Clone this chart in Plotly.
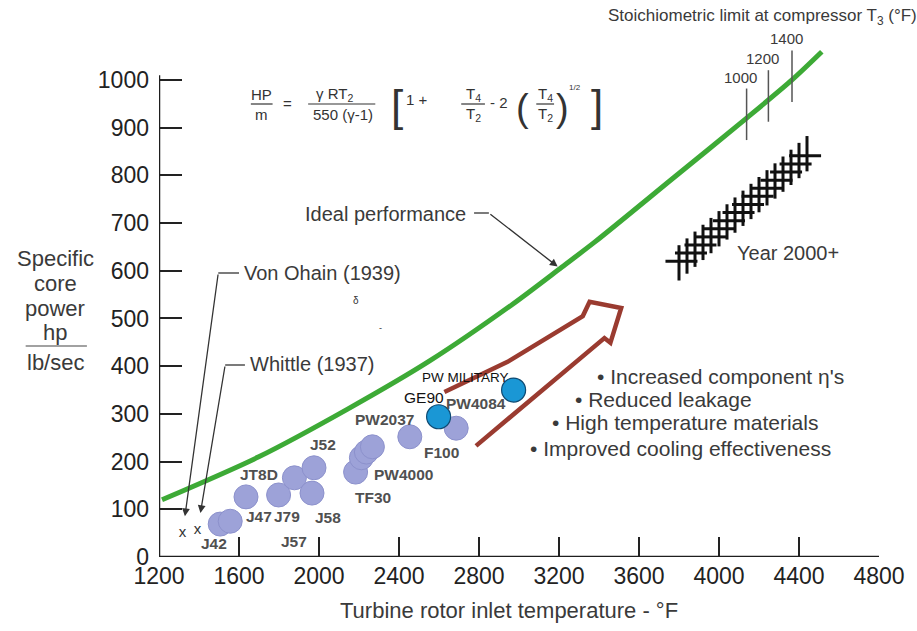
import numpy as np
import plotly.graph_objects as go

# ---------------- data ----------------
ideal_temp = [1215, 1699, 2143, 2553, 2968, 3215, 3378, 3773, 4138, 4365, 4514]
ideal_power = [120, 210, 310, 411, 530, 608, 660, 795, 920, 1000, 1059]

engine_temp = [1506, 1556, 1635, 1798, 1877, 1965, 1975, 2183, 2212, 2237, 2267, 2454, 2686]
engine_power = [69, 75, 126, 130, 166, 134, 187, 178, 208, 220, 231, 252, 270]
engine_labels = ["J42", "J57", "J47", "J79", "J58", "JT8D", "J52", "TF30", "PW4000", "PW2037", "F100", "PW4084"]
engine_label_anchor = [0, 3, 2, 3, 5, 4, 6, 7, 8, 10, 11, 12]

new_engine_names = ["GE90", "PW MILITARY"]
new_engine_temp = [2598, 2973]
new_engine_power = [294, 350]

early_names = ["Von Ohain (1939)", "Whittle (1937)"]
early_temp = [1318, 1393]
early_power = [50, 57]

stoich_T3 = ["1000", "1200", "1400"]
stoich_temp = [4138, 4247, 4365]

year2000_temp = [3790, 4450]
year2000_power = [612, 848]

trend_arrow_temp = [2627, 2943, 3319, 3353, 3511, 3457, 3427, 2785]
trend_arrow_power = [346, 409, 505, 535, 522, 449, 459, 233]

improvements = ["• Increased component η's", "• Reduced leakage",
                "• High temperature materials", "• Improved cooling effectiveness"]

x_ticks = [1200, 1600, 2000, 2400, 2800, 3200, 3600, 4000, 4400, 4800]
y_ticks = [0, 100, 200, 300, 400, 500, 600, 700, 800, 900, 1000]

# ---------------- layout geometry / styles ----------------
W, H = 917, 631
L, R, T, B = 159, 29, 27, 74
PW, PH = W - L - R, H - T - B
FONT = "Liberation Sans"
TXT = "#3a3a3a"

engine_label_offset = [(-6, 19), (15, 47), (13, 20), (8, 22), (16, 24), (-35, -3), (9, -23),
                       (17, 25), (42, 17), (12, -27), (32, 16), (20, -25)]
new_label_offset = [(-15, -19), (-48, -13)]
early_label_px = [(243, 273), (249, 364)]
early_tail_px = [(219, 273), (226, 365)]
improve_px = [(600, 376), (578, 399), (555, 423), (533, 448)]


def P(xp, yp):
    return (xp - L) / PW, 1 - (yp - T) / PH


def px2data(xp, yp):
    return 1200 + (xp - L) / PW * 3600, (H - B - yp) / PH * 1111


fig = go.Figure()

fig.add_trace(go.Scatter(x=ideal_temp, y=ideal_power, mode="lines",
                         line=dict(color="#3daa36", width=5, shape="spline", smoothing=0.8),
                         hoverinfo="skip"))
fig.add_trace(go.Scatter(x=engine_temp, y=engine_power, mode="markers",
                         marker=dict(size=24, color="#9da2d8", line=dict(color="#8c91cc", width=1)),
                         hoverinfo="skip"))
fig.add_trace(go.Scatter(x=new_engine_temp, y=new_engine_power, mode="markers",
                         marker=dict(size=24, color="#1a97d5", line=dict(color="#0e4a72", width=1.2)),
                         hoverinfo="skip"))
fig.add_trace(go.Scatter(x=early_temp, y=early_power, mode="text", text=["x", "x"],
                         textfont=dict(family=FONT, size=15, color="#333"), hoverinfo="skip"))

shapes = []
ann = []


def ptxt(s, xp, yp, size, color=TXT, xanchor="center"):
    x, y = P(xp, yp)
    ann.append(dict(x=x, y=y, xref="paper", yref="paper", text=s, showarrow=False,
                    xanchor=xanchor, yanchor="middle",
                    font=dict(family=FONT, size=size, color=color)))


def pline(x0, y0, x1, y1, color="#333", width=1.3):
    a, b = P(x0, y0)
    c, d = P(x1, y1)
    shapes.append(dict(type="line", xref="paper", yref="paper", x0=a, y0=b, x1=c, y1=d,
                       line=dict(color=color, width=width)))


# axis lines
shapes.append(dict(type="line", xref="x", yref="y", x0=1200, x1=4810, y0=0, y1=0,
                   line=dict(color="#1e1e1e", width=2.5)))
shapes.append(dict(type="line", xref="x", yref="y", x0=1200, x1=1200, y0=0, y1=1010,
                   line=dict(color="#1e1e1e", width=2.5)))

# red trend arrow (hollow)
path = "M " + " L ".join(f"{t},{p}" for t, p in zip(trend_arrow_temp, trend_arrow_power))
shapes.append(dict(type="path", xref="x", yref="y", path=path, layer="below",
                   line=dict(color="#9a3b30", width=4.5)))

# stoichiometric tick lines across the ideal curve
for lab, t in zip(stoich_T3, stoich_temp):
    pc = float(np.interp(t, ideal_temp, ideal_power))
    shapes.append(dict(type="line", xref="x", yref="y", x0=t, x1=t, y0=pc - 46, y1=pc + 62,
                       line=dict(color="#555", width=1.5)))
    ann.append(dict(x=t, y=pc + 62, xref="x", yref="y", text=lab, showarrow=False,
                    xanchor="center", yanchor="bottom", xshift=-6, yshift=1,
                    font=dict(family=FONT, size=15, color=TXT)))

# Year 2000+ cross-hatched band
t0, t1 = year2000_temp
p0, p1 = year2000_power
for t in np.arange(t0 + 10, t1 - 5, 40):
    pc = np.interp(t, year2000_temp, year2000_power)
    shapes.append(dict(type="line", xref="x", yref="y", x0=t, x1=t, y0=pc - 36, y1=pc + 38,
                       line=dict(color="#111", width=3)))
for p in np.arange(p0 + 8, p1 - 4, 17):
    tc = np.interp(p, year2000_power, year2000_temp)
    shapes.append(dict(type="line", xref="x", yref="y", x0=tc - 80, x1=tc + 80, y0=p, y1=p,
                       line=dict(color="#111", width=3)))
ptxt("Year 2000+", 796, 253, 20)

# engine labels
for name, idx, (dx, dy) in zip(engine_labels, engine_label_anchor, engine_label_offset):
    ann.append(dict(x=engine_temp[idx], y=engine_power[idx], xref="x", yref="y",
                    text="<b>" + name + "</b>", showarrow=False, xanchor="center", yanchor="middle",
                    xshift=dx, yshift=-dy, font=dict(family=FONT, size=15.5, color="#505050")))
for name, t, p, (dx, dy), fs in zip(new_engine_names, new_engine_temp, new_engine_power,
                                    new_label_offset, [15.5, 13.5]):
    ann.append(dict(x=t, y=p, xref="x", yref="y", text=name, showarrow=False,
                    xanchor="center", yanchor="middle",
                    xshift=dx, yshift=-dy, font=dict(family=FONT, size=fs, color="#111")))

# early engine leaders
for name, t, p, (lx, ly), (tx, ty) in zip(early_names, early_temp, early_power, early_label_px, early_tail_px):
    ax_, ay_ = px2data(tx, ty)
    ann.append(dict(x=t, y=p, xref="x", yref="y", ax=ax_, ay=ay_, axref="x", ayref="y",
                    text="", showarrow=True, arrowhead=2, arrowsize=1.2, arrowwidth=1.3,
                    arrowcolor="#333", standoff=17))
    pline(tx, ty, lx - 3, ty)
    ptxt(name, lx, ly, 20, xanchor="left")

# ideal performance label
tip_t = 3205
tip_p = float(np.interp(tip_t, ideal_temp, ideal_power))
tail_t, tail_p = px2data(493, 213)
ann.append(dict(x=tip_t, y=tip_p, xref="x", yref="y", ax=tail_t, ay=tail_p, axref="x", ayref="y",
                text="", showarrow=True, arrowhead=2, arrowsize=1.2, arrowwidth=1.3,
                arrowcolor="#333", standoff=3))
pline(478, 213, 493, 213)
ptxt("Ideal performance", 472, 214, 20, xanchor="right")

# improvement bullets
for txt, (xp, yp) in zip(improvements, improve_px):
    ptxt(txt, xp, yp, 21, xanchor="left")

# stoichiometric heading
ptxt("Stoichiometric limit at compressor T<sub>3</sub> (°F)", 612, 17, 17, xanchor="left")

# y-axis title (stacked)
for txt, yp in [("Specific", 258), ("core", 283), ("power", 308), ("hp", 332), ("lb/sec", 362)]:
    ptxt(txt, 54, yp, 22)
pline(24, 346, 86, 346, color="#444", width=1.2)

# x-axis title
ptxt("Turbine rotor inlet temperature - °F", 513, 610, 22)

# formula
FC = "#333"
ptxt("HP", 263, 95, 15, FC)
pline(252, 104, 274, 104, FC, 1.2)
ptxt("m", 263, 115, 15, FC)
ptxt("=", 289, 104, 15, FC)
ptxt("γ RT<sub>2</sub>", 337, 95, 15, FC)
pline(310, 104, 378, 104, FC, 1.2)
ptxt("550 (γ-1)", 345, 115, 15, FC)
ptxt("[", 400, 106, 44, FC)
ptxt("1 +", 420, 100, 15, FC)
ptxt("T<sub>4</sub>", 477, 95, 15, FC)
pline(465, 104, 489, 104, FC, 1.2)
ptxt("T<sub>2</sub>", 477, 115, 15, FC)
ptxt("- 2", 503, 103, 15, FC)
ptxt("(", 527, 108, 38, FC)
ptxt("T<sub>4</sub>", 550, 95, 15, FC)
pline(541, 104, 559, 104, FC, 1.2)
ptxt("T<sub>2</sub>", 550, 115, 15, FC)
ptxt(")", 568, 108, 38, FC)
ptxt("1/2", 580, 88, 8, FC)
ptxt("]", 602, 106, 44, FC)

# scan specks
ptxt("δ", 358, 300, 10, FC)
ptxt("-", 383, 328, 9, FC)

fig.update_layout(
    width=W, height=H, margin=dict(l=L, r=R, t=T, b=B),
    plot_bgcolor="white", paper_bgcolor="white", showlegend=False,
    font=dict(family=FONT),
    shapes=shapes, annotations=ann,
    xaxis=dict(range=[1200, 4800], showgrid=False, zeroline=False, showline=False,
               tickmode="array", tickvals=x_ticks, ticktext=[str(v) for v in x_ticks],
               ticks="", tickfont=dict(family=FONT, size=23, color="#222"), ticklabelstandoff=3,
               minor=dict(tickmode="array", tickvals=x_ticks[1:-1], ticks="inside", ticklen=20,
                          tickwidth=2, tickcolor="#222")),
    yaxis=dict(range=[0, 1111], showgrid=False, zeroline=False, showline=False,
               tickmode="array", tickvals=y_ticks, ticktext=[str(v) for v in y_ticks],
               ticks="", tickfont=dict(family=FONT, size=23, color="#222"), ticklabelstandoff=9,
               minor=dict(tickmode="array", tickvals=y_ticks[1:], ticks="inside", ticklen=23,
                          tickwidth=2, tickcolor="#222")),
)

fig.write_html("out.html")
